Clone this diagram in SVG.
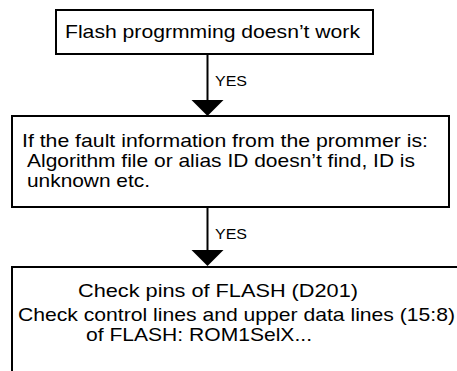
<svg xmlns="http://www.w3.org/2000/svg" width="457" height="371" viewBox="0 0 457 371">
<style>
.box{fill:#fff;stroke:#000;stroke-width:2}
.t{font-family:"Liberation Sans",Arial,sans-serif;font-size:18.5px;fill:#000}
.y{font-family:"Liberation Sans",Arial,sans-serif;font-size:14px;fill:#000}
.ln{stroke:#000;stroke-width:2;fill:none}
.ah{fill:#000}
</style>
<rect width="457" height="371" fill="#fff"/>
<g id="connectors">
<line class="ln" x1="207.5" y1="54" x2="207.5" y2="100"/>
<path class="ah" d="M191.5,100 L223.5,100 L207.5,116 Z"/>
<text class="y" x="215" y="86" textLength="32" lengthAdjust="spacingAndGlyphs">YES</text>
<line class="ln" x1="207.5" y1="207" x2="207.5" y2="250"/>
<path class="ah" d="M191.5,250 L223.5,250 L207.5,266 Z"/>
<text class="y" x="215" y="239" textLength="32" lengthAdjust="spacingAndGlyphs">YES</text>
</g>
<g id="node1">
<rect class="box" x="56" y="10" width="317" height="44"/>
<text class="t" x="65" y="38" textLength="295" lengthAdjust="spacingAndGlyphs">Flash progrmming doesn’t work</text>
</g>
<g id="node2">
<rect class="box" x="12" y="116" width="437" height="91"/>
<text class="t" x="22" y="147" textLength="406" lengthAdjust="spacingAndGlyphs">If the fault information from the prommer is:</text>
<text class="t" x="27" y="167" textLength="388" lengthAdjust="spacingAndGlyphs">Algorithm file or alias ID doesn’t find, ID is</text>
<text class="t" x="27" y="187" textLength="123" lengthAdjust="spacingAndGlyphs">unknown etc.</text>
</g>
<g id="node3">
<rect class="box" x="12" y="267" width="470" height="130"/>
<text class="t" x="78" y="297" textLength="280" lengthAdjust="spacingAndGlyphs">Check pins of FLASH (D201)</text>
<text class="t" x="18" y="321" textLength="437" lengthAdjust="spacingAndGlyphs">Check control lines and upper data lines (15:8)</text>
<text class="t" x="86" y="341" textLength="226" lengthAdjust="spacingAndGlyphs">of FLASH: ROM1SelX...</text>
</g>
</svg>
